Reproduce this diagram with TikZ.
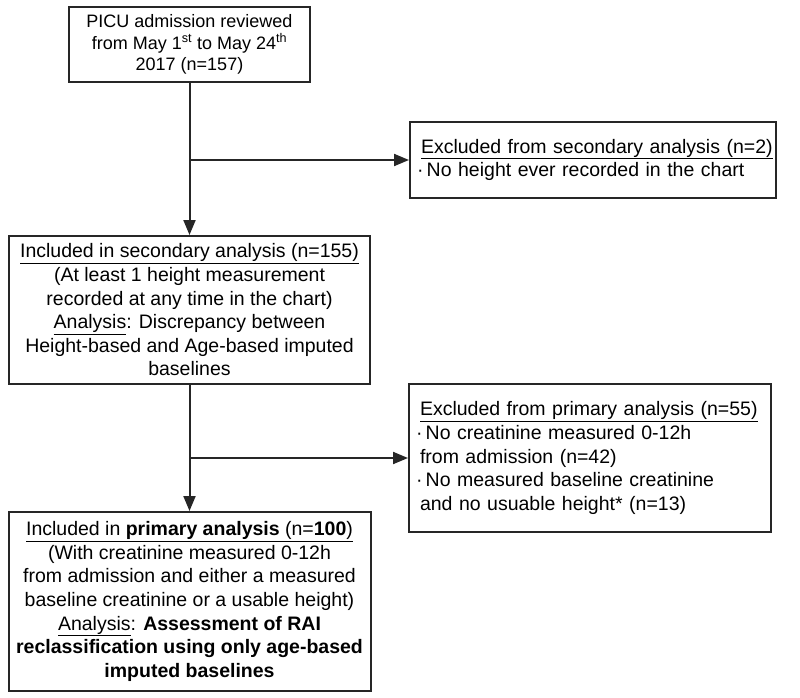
\documentclass[tikz,border=0pt]{standalone}
\usepackage{fontspec}
\setmainfont{Liberation Sans}
\usetikzlibrary{positioning, shapes, arrows.meta}

\begin{document}
\begin{tikzpicture}[
            x=1pt, y=-1pt,
            font=\fontsize{19.5}{23.6}\selectfont,
            box/.style={rectangle, draw=black!85, line width=2pt, align=center, inner sep=3pt},
            sidebox/.style={rectangle, draw=black!85, line width=2pt, align=left, inner xsep=6pt},
            arrow/.style={line width=2pt, draw=black!85, -{Triangle[length=15pt, width=12pt]}}, % Arrows with arrowheads
            split/.style={coordinate}
        ]
        \useasboundingbox (0,0) rectangle (800,698);

        % Nodes
        \node[box, minimum width=241pt, minimum height=75pt, font=\fontsize{18}{21.7}\selectfont] (admit) at (189.5,44.5)
            {PICU admission reviewed\\from May 1\textsuperscript{st} to May 24\textsuperscript{th}\\2017 (n=157)};
        \node[box, minimum width=361pt, minimum height=148pt, below=152pt of admit] (inclSec)
            {\underline{Included in secondary analysis (n=155)}\\(At least 1 height measurement\\recorded at any time in the chart)\\\underline{Analysis}: Discrepancy between\\Height-based and Age-based imputed\\baselines};
        \node[box, minimum width=362pt, minimum height=179pt, below=126pt of inclSec] (inclPrim)
            {\underline{Included in \textbf{primary analysis} (n=\textbf{100})}\\(With creatinine measured 0-12h\\from admission and either a measured\\baseline creatinine or a usable height)\\\underline{Analysis}: \textbf{Assessment of RAI}\\\textbf{reclassification using only age-based}\\\textbf{imputed baselines}};

        \node[sidebox, minimum width=366pt, minimum height=76pt, text width=352pt] (exclSec) at (593,160)
            {\hspace*{4pt}\underline{Excluded from secondary analysis (n=2)}\\·\,No height ever recorded in the chart};
        \node[sidebox, minimum width=362pt, minimum height=148pt, text width=348pt] (exclPrim) at (590,458)
            {\hspace*{4pt}\underline{Excluded from primary analysis (n=55)}\\·\,No creatinine measured 0-12h\\\hspace*{4pt}from admission (n=42)\\·\,No measured baseline creatinine\\\hspace*{4pt}and no usuable height* (n=13)};

        % Split points
        \coordinate[split] (splitA) at (admit.south |- exclSec.west);
        \coordinate[split] (splitB) at (inclSec.south |- exclPrim.west);

        % Connections
        \draw[arrow] (admit) -- (inclSec);
        \draw[arrow] (splitA) -- (exclSec);
        \draw[arrow] (inclSec) -- (inclPrim);
        \draw[arrow] (splitB) -- (exclPrim);

\end{tikzpicture}
\end{document}
